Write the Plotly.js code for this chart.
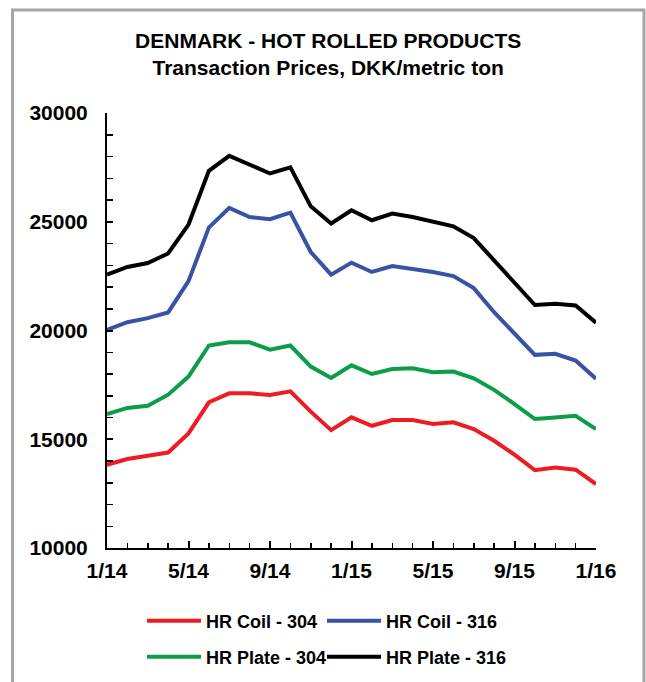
<!DOCTYPE html>
<html>
<head>
<meta charset="utf-8">
<script src="https://cdn.plot.ly/plotly-3.0.1.min.js"></script>
<style>html,body{margin:0;padding:0;background:#fff;}#chart{width:646px;height:682px;}</style>
</head>
<body>
<div id="chart"></div>
<script>
const months = ["1/14","2/14","3/14","4/14","5/14","6/14","7/14","8/14","9/14","10/14","11/14","12/14",
  "1/15","2/15","3/15","4/15","5/15","6/15","7/15","8/15","9/15","10/15","11/15","12/15","1/16"];
const coil304 = [13830,14090,14240,14390,15270,16700,17110,17110,17040,17200,16270,15420,
  16010,15620,15880,15880,15700,15780,15470,14930,14290,13580,13700,13600,12940];
const coil316 = [20030,20380,20570,20830,22270,24730,25640,25220,25120,25420,23610,22570,
  23120,22690,22960,22840,22690,22500,21950,20840,19850,18880,18930,18620,17780];
const plate304 = [16160,16440,16540,17050,17880,19310,19460,19460,19120,19310,18340,17820,
  18400,18000,18230,18260,18080,18110,17800,17270,16620,15930,16000,16080,15470];
const plate316 = [22570,22920,23100,23540,24870,27340,28030,27600,27220,27500,25710,24920,
  25530,25070,25380,25220,25020,24790,24250,23230,22230,21170,21230,21150,20360];
const majorLabels = ["1/14","5/14","9/14","1/15","5/15","9/15","1/16"];

const xIdx = months.map((m, i) => i);
const font = "Liberation Sans, Arial, sans-serif";

const series = [
  {name: "HR Coil - 304", y: coil304, color: "#ed1c24", legend: "legend"},
  {name: "HR Coil - 316", y: coil316, color: "#3953a4", legend: "legend2"},
  {name: "HR Plate - 304", y: plate304, color: "#0c9d4a", legend: "legend3"},
  {name: "HR Plate - 316", y: plate316, color: "#000000", legend: "legend4"}
];

const traces = series.map(s => ({
  type: "scatter", mode: "lines", x: xIdx, y: s.y, name: s.name,
  legend: s.legend,
  line: {color: s.color, width: 4}, hoverinfo: "skip"
}));

const legendCommon = {
  orientation: "h", xanchor: "left", yanchor: "middle",
  xref: "container", yref: "container", itemwidth: 54,
  font: {family: font, size: 18, color: "#000", weight: "bold"},
  bgcolor: "rgba(0,0,0,0)", borderwidth: 0
};
const col1 = 142/646, col2 = 322/646, row1 = 1 - 621/682, row2 = 1 - 657/682;

const layout = {
  width: 646, height: 682,
  margin: {l: 107, r: 50, t: 113, b: 134, autoexpand: false},
  paper_bgcolor: "#fff", plot_bgcolor: "#fff",
  showlegend: true,
  title: {
    text: "<b>DENMARK - HOT ROLLED PRODUCTS</b><br><b>Transaction Prices, DKK/metric ton</b>",
    font: {family: font, size: 21, color: "#000"},
    x: 0.508, xref: "container", xanchor: "center",
    y: 1 - 47.5/682, yref: "container", yanchor: "top"
  },
  xaxis: {
    range: [0, 24], showgrid: false, zeroline: false,
    showline: true, linecolor: "#000", linewidth: 2,
    tickmode: "array", tickvals: majorLabels.map(l => months.indexOf(l)), ticktext: majorLabels,
    ticks: "inside", ticklen: 7, tickwidth: 2, tickcolor: "#000",
    minor: {tickmode: "linear", tick0: 0, dtick: 1, ticks: "inside", ticklen: 5, tickwidth: 1.5, tickcolor: "#000"},
    tickfont: {family: font, size: 21, color: "#000", weight: "bold"},
    ticklabelstandoff: 3,
    fixedrange: true
  },
  yaxis: {
    range: [10000, 30000], showgrid: false, zeroline: false,
    showline: true, linecolor: "#000", linewidth: 2,
    tickmode: "linear", tick0: 10000, dtick: 5000, tickformat: "d",
    ticks: "inside", ticklen: 6, tickwidth: 2, tickcolor: "#000",
    minor: {tickmode: "linear", dtick: 1000, ticks: "inside", ticklen: 6, tickwidth: 1.5, tickcolor: "#000"},
    tickfont: {family: font, size: 21, color: "#000", weight: "bold"},
    ticklabelstandoff: 13,
    fixedrange: true
  },
  legend: Object.assign({}, legendCommon, {x: col1, y: row1}),
  legend2: Object.assign({}, legendCommon, {x: col2, y: row1}),
  legend3: Object.assign({}, legendCommon, {x: col1, y: row2}),
  legend4: Object.assign({}, legendCommon, {x: col2, y: row2}),
  shapes: [{
    type: "rect", xref: "paper", yref: "paper",
    x0: (12.5-107)/489, x1: (644-107)/489, y0: (548-720)/435, y1: (548-10)/435,
    line: {color: "#a6a6a6", width: 3}, fillcolor: "rgba(0,0,0,0)", layer: "below"
  }]
};

Plotly.newPlot("chart", traces, layout, {displayModeBar: false, staticPlot: true});
</script>
</body>
</html>
